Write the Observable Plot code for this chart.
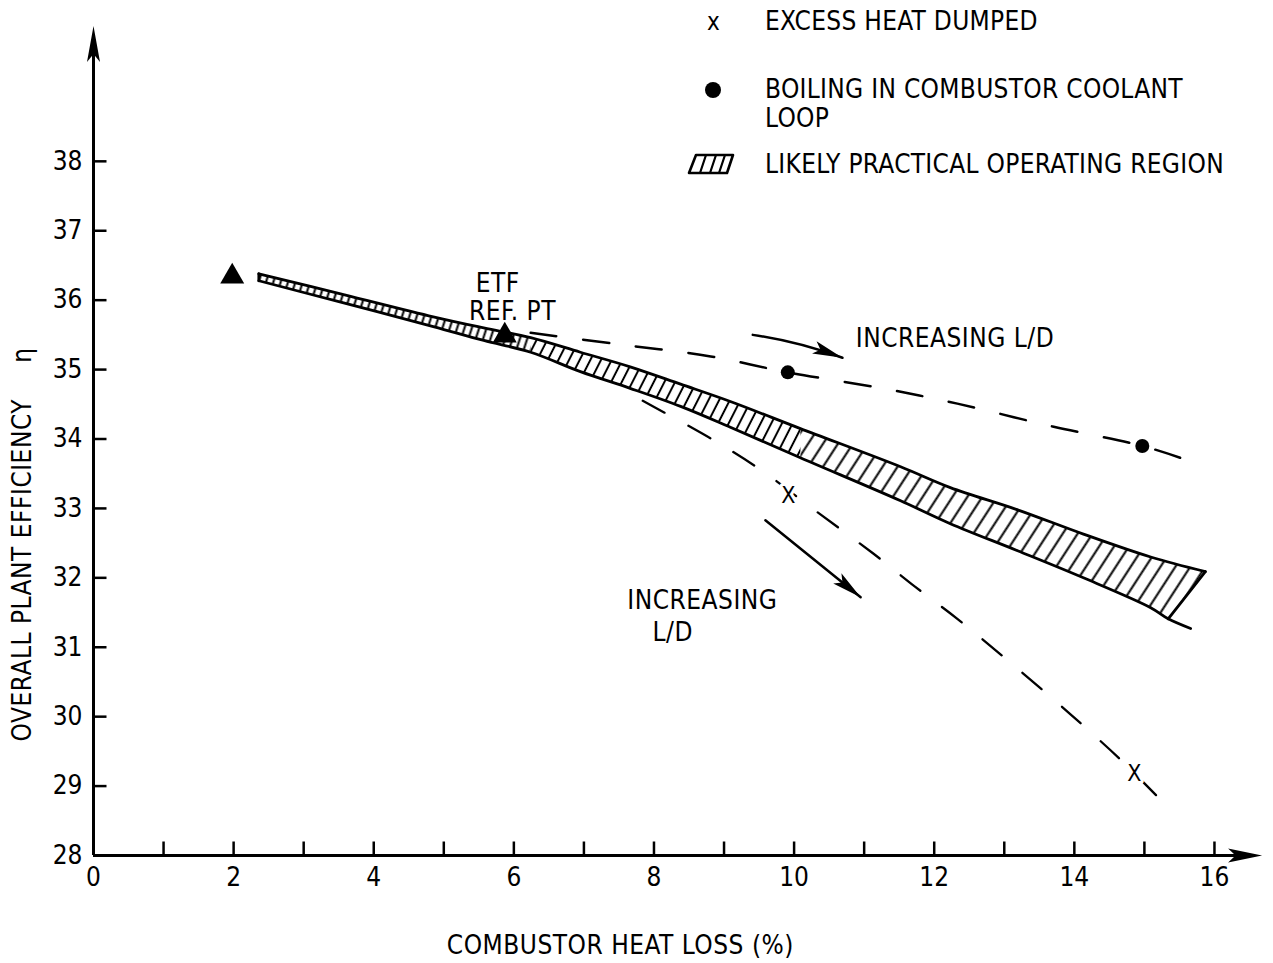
<!DOCTYPE html>
<html>
<head>
<meta charset="utf-8">
<title>Overall plant efficiency vs combustor heat loss</title>
<script src="https://cdn.jsdelivr.net/npm/d3@7"></script>
<script src="https://cdn.jsdelivr.net/npm/@observablehq/plot@0.6"></script>
<style>
  html, body { margin: 0; padding: 0; background: #fff; }
  #chart { position: relative; width: 1273px; height: 963px; overflow: hidden; color: #000;
           font-family: "Liberation Sans Narrow", "DejaVu Sans Condensed", "Liberation Sans", sans-serif; }
  #chart svg { display: block; }
  #chart g[aria-label="text"] text { letter-spacing: 0.5px; }
  .key { position: absolute; font-size: 26px; line-height: 26px; letter-spacing: 0.3px; white-space: nowrap; }
</style>
</head>
<body>
<div id="chart"></div>
<script>
const FONT = '"Liberation Sans Narrow", "DejaVu Sans Condensed", "Liberation Sans", sans-serif';

// ---- axes ----
const xDomain = [0, 16.7];
const yDomain = [28, 40];
const xTicks = [1, 2, 3, 4, 5, 6, 7, 8, 9, 10, 11, 12, 13, 14, 15, 16];
const xTickLabels = [0, 2, 4, 6, 8, 10, 12, 14, 16];
const yTicks = [29, 30, 31, 32, 33, 34, 35, 36, 37, 38];
const yTickLabels = [28, 29, 30, 31, 32, 33, 34, 35, 36, 37, 38];
const xArrowTip = 16.68;
const yArrowTip = 39.95;
const xTitle = "COMBUSTOR HEAT LOSS (%)";
const yTitle = "OVERALL PLANT EFFICIENCY\u2003\u2002\u03b7";

// ---- likely practical operating region (edges at shared heat-loss values) ----
const bandX      = [2.36, 3.57, 4.85, 5.57, 6.24, 6.95, 7.66, 8.38, 9.09, 10.09, 11.52, 12.23, 13.19, 14.13, 15.09];
const bandTop    = [36.38, 36.08, 35.76, 35.60, 35.46, 35.25, 35.04, 34.79, 34.54, 34.15, 33.60, 33.30, 32.98, 32.63, 32.30];
const bandBottom = [36.28, 35.96, 35.62, 35.42, 35.25, 34.97, 34.73, 34.47, 34.17, 33.73, 33.11, 32.78, 32.39, 32.00, 31.57];
// slanted right-hand end, and the lower edge running on past it
const bandEndTop = [15.87, 32.09];
const bandEndBottom = [15.34, 31.41];
const bandBottomTail = [15.66, 31.27];

// ---- boiling in combustor coolant loop branch ----
const boilLineX = [6.24, 7.45, 8.81, 9.91, 11.26, 12.33, 13.69, 14.97, 15.51];
const boilLineY = [35.53, 35.37, 35.19, 34.96, 34.73, 34.51, 34.18, 33.90, 33.73];
const boilX = [9.91, 14.97];
const boilY = [34.96, 33.90];

// ---- excess heat dumped branch ----
const dumpLineX = [7.84, 8.84, 9.56, 10.26, 11.13, 11.73, 12.33, 12.92, 13.62, 14.14, 14.67, 15.37];
const dumpLineY = [34.55, 33.99, 33.53, 33.00, 32.35, 31.87, 31.41, 30.92, 30.32, 29.86, 29.37, 28.66];
const dumpX = [9.92, 14.86];
const dumpY = [33.19, 29.18];

// ---- reference points (triangles) ----
const refX = [1.98, 5.87];
const refY = [36.34, 35.49];

// ---- annotations ----
const noteText   = ["ETF", "REF. PT", "INCREASING L/D", "INCREASING", "L/D"];
const noteX      = [5.77, 5.98, 10.88, 7.62, 7.98];
const noteY      = [36.24, 35.83, 35.44, 31.67, 31.21];
const noteCenter = [true, true, false, false, false];

const arrowX1 = [9.41, 9.59];
const arrowY1 = [35.50, 32.83];
const arrowX2 = [10.69, 10.95];
const arrowY2 = [35.17, 31.72];
const arrowBend = [6, 0];

// ---- legend ----
const legendLabels = ["EXCESS HEAT DUMPED", "BOILING IN COMBUSTOR COOLANT", "LOOP", "LIKELY PRACTICAL OPERATING REGION"];

// ---------------------------------------------------------------------------
const W = 1273, H = 963;
const margin = {top: 22, right: 10, bottom: 108, left: 93};
const sx = Plot.scale({x: {domain: xDomain, range: [margin.left, W - margin.right]}});
const sy = Plot.scale({y: {domain: yDomain, range: [H - margin.bottom, margin.top]}});

const pts = (xs, ys) => xs.map((x, i) => ({x, y: ys[i]}));
const pair = p => ({x: p[0], y: p[1]});

// filled arrowhead pointing along +x with its tip at the origin
const arrowHead = (L, w) => ({
  draw(ctx) {
    ctx.moveTo(0, 0);
    ctx.lineTo(-L, -w / 2);
    ctx.lineTo(-0.78 * L, 0);
    ctx.lineTo(-L, w / 2);
    ctx.closePath();
  }
});
const tickUp = {draw(ctx) { ctx.moveTo(0, 0); ctx.lineTo(0, -14); }};
const tickRight = {draw(ctx) { ctx.moveTo(0, 0); ctx.lineTo(13, 0); }};

// hatched region split into zones of increasing hatch spacing
function zonePolygon(i0, i1, withEnd) {
  const top = [];
  const bottom = [];
  for (let i = i0; i <= i1; i++) {
    top.push({x: bandX[i], y: bandTop[i]});
    bottom.push({x: bandX[i], y: bandBottom[i]});
  }
  if (withEnd) { top.push(pair(bandEndTop)); bottom.push(pair(bandEndBottom)); }
  return top.concat(bottom.reverse());
}
const zones = [
  {poly: zonePolygon(0, 4, false), fill: "url(#hatchFine)"},
  {poly: zonePolygon(4, 9, false), fill: "url(#hatchMid)"},
  {poly: zonePolygon(9, bandX.length - 1, true), fill: "url(#hatchWide)"}
];
const topEdge = pts(bandX, bandTop).concat([pair(bandEndTop)]);
const bottomEdge = pts(bandX, bandBottom).concat([pair(bandEndBottom), pair(bandBottomTail)]);
const rightEdge = [pair(bandEndTop), pair(bandEndBottom)];
const leftEdge = [{x: bandX[0], y: bandTop[0]}, {x: bandX[0], y: bandBottom[0]}];

const arrows = arrowX1.map((x1, i) => {
  const a = {x1, y1: arrowY1[i], x2: arrowX2[i], y2: arrowY2[i], bend: arrowBend[i]};
  a.angle = Math.atan2(sy.apply(a.y2) - sy.apply(a.y1), sx.apply(a.x2) - sx.apply(a.x1)) * 180 / Math.PI + a.bend;
  return a;
});

const notes = noteText.map((t, i) => ({text: t, x: noteX[i], y: noteY[i], center: noteCenter[i]}));

const chart = Plot.plot({
  width: W,
  height: H,
  marginTop: margin.top,
  marginRight: margin.right,
  marginBottom: margin.bottom,
  marginLeft: margin.left,
  x: {domain: xDomain},
  y: {domain: yDomain},
  style: {fontFamily: FONT, fontSize: "26px", color: "black", background: "white", overflow: "visible"},
  marks: [
    // axes with arrowheads
    Plot.ruleX([0], {y1: yDomain[0], y2: yArrowTip - 0.3, stroke: "black", strokeWidth: 3}),
    Plot.ruleY([yDomain[0]], {x1: 0, x2: xArrowTip - 0.3, stroke: "black", strokeWidth: 3}),
    Plot.dot([{x: 0, y: yArrowTip}], {x: "x", y: "y", symbol: arrowHead(36, 13), rotate: -90, fill: "black", stroke: "none"}),
    Plot.dot([{x: xArrowTip, y: yDomain[0]}], {x: "x", y: "y", symbol: arrowHead(34, 14), rotate: 0, fill: "black", stroke: "none"}),
    Plot.dot(xTicks, {x: d => d, y: yDomain[0], symbol: tickUp, fill: "none", stroke: "black", strokeWidth: 2.5}),
    Plot.dot(yTicks, {x: 0, y: d => d, symbol: tickRight, fill: "none", stroke: "black", strokeWidth: 2.5}),
    Plot.axisX({ticks: xTickLabels, tickSize: 0, tickPadding: 12, label: null}),
    Plot.axisY({ticks: yTickLabels, tickSize: 0, tickPadding: 11, label: null}),
    Plot.text([xTitle], {frameAnchor: "bottom", x: 7.52, dy: 90, text: d => d, textAnchor: "middle", lineAnchor: "middle"}),
    Plot.text([yTitle], {frameAnchor: "left", y: 32.48, dx: -71, rotate: -90, text: d => d, textAnchor: "middle", lineAnchor: "middle"}),

    // likely practical operating region
    ...zones.map(z => Plot.line(z.poly, {x: "x", y: "y", curve: "linear-closed", fill: z.fill, stroke: "none"})),
    Plot.line(topEdge, {x: "x", y: "y", curve: "catmull-rom", stroke: "black", strokeWidth: 2.8}),
    Plot.line(bottomEdge, {x: "x", y: "y", curve: "catmull-rom", stroke: "black", strokeWidth: 2.8}),
    Plot.line(rightEdge, {x: "x", y: "y", stroke: "black", strokeWidth: 2.8}),
    Plot.line(leftEdge, {x: "x", y: "y", stroke: "black", strokeWidth: 2.8}),

    // dashed branches
    Plot.line(pts(boilLineX, boilLineY), {x: "x", y: "y", curve: "catmull-rom", stroke: "black", strokeWidth: 2.5, strokeDasharray: "26,27"}),
    Plot.line(pts(dumpLineX, dumpLineY), {x: "x", y: "y", curve: "catmull-rom", stroke: "black", strokeWidth: 2.3, strokeDasharray: "25,27"}),

    // markers
    Plot.dot(pts(boilX, boilY), {x: "x", y: "y", r: 7, fill: "black", stroke: "none"}),
    Plot.text(pts(dumpX, dumpY), {x: "x", y: "y", text: () => "X", fontSize: 23, fill: "black", stroke: "white", strokeWidth: 6, paintOrder: "stroke"}),
    Plot.dot(pts(refX, refY), {x: "x", y: "y", symbol: "triangle", r: 8.9, fill: "black", stroke: "none"}),

    // direction arrows
    ...arrows.map(a => Plot.arrow([a], {x1: "x1", y1: "y1", x2: "x2", y2: "y2", bend: a.bend, headLength: 0, stroke: "black", strokeWidth: 2.5})),
    Plot.dot(arrows, {x: "x2", y: "y2", rotate: "angle", symbol: arrowHead(30, 13), fill: "black", stroke: "none"}),

    // annotations
    Plot.text(notes.filter(d => d.center), {x: "x", y: "y", text: "text", textAnchor: "middle"}),
    Plot.text(notes.filter(d => !d.center), {x: "x", y: "y", text: "text", textAnchor: "start"})
  ]
});

// hatch patterns for the operating region
d3.select(chart).insert("defs", ":first-child").html(
  [["hatchFine", 7, 18], ["hatchMid", 9.5, 27], ["hatchWide", 12.5, 33]].map(([id, w, angle]) =>
    `<pattern id="${id}" patternUnits="userSpaceOnUse" width="${w}" height="60" patternTransform="rotate(${angle})">` +
    `<line x1="${w / 2}" y1="-5" x2="${w / 2}" y2="65" stroke="black" stroke-width="2"/></pattern>`).join("")
);

const root = document.getElementById("chart");
root.appendChild(chart);

// legend, top right
const keyTops = [7.5, 75.5, 104.5, 150.5];
legendLabels.forEach((label, i) => {
  const el = document.createElement("div");
  el.className = "key";
  el.style.left = "765px";
  el.style.top = keyTops[i] + "px";
  el.textContent = label;
  root.appendChild(el);
});
const xKey = document.createElement("div");
xKey.className = "key";
xKey.style.cssText = "left:707px;top:9px;font-size:24px;";
xKey.textContent = "x";
root.appendChild(xKey);
const dotKey = document.createElement("div");
dotKey.style.cssText = "position:absolute;left:705px;top:82px;width:16px;height:16px;border-radius:50%;background:#000;";
root.appendChild(dotKey);
const hatchKey = document.createElementNS("http://www.w3.org/2000/svg", "svg");
hatchKey.setAttribute("width", "52");
hatchKey.setAttribute("height", "28");
hatchKey.style.cssText = "position:absolute;left:686px;top:150px;";
hatchKey.innerHTML =
  '<path d="M10 5 L47 5 L41 23 L3 23 Z" fill="none" stroke="black" stroke-width="2.6" stroke-linejoin="round"/>' +
  '<line x1="14" y1="23" x2="20" y2="5" stroke="black" stroke-width="2.2"/>' +
  '<line x1="24" y1="23" x2="30" y2="5" stroke="black" stroke-width="2.2"/>' +
  '<line x1="33" y1="23" x2="39" y2="5" stroke="black" stroke-width="2.2"/>';
root.appendChild(hatchKey);
</script>
</body>
</html>
